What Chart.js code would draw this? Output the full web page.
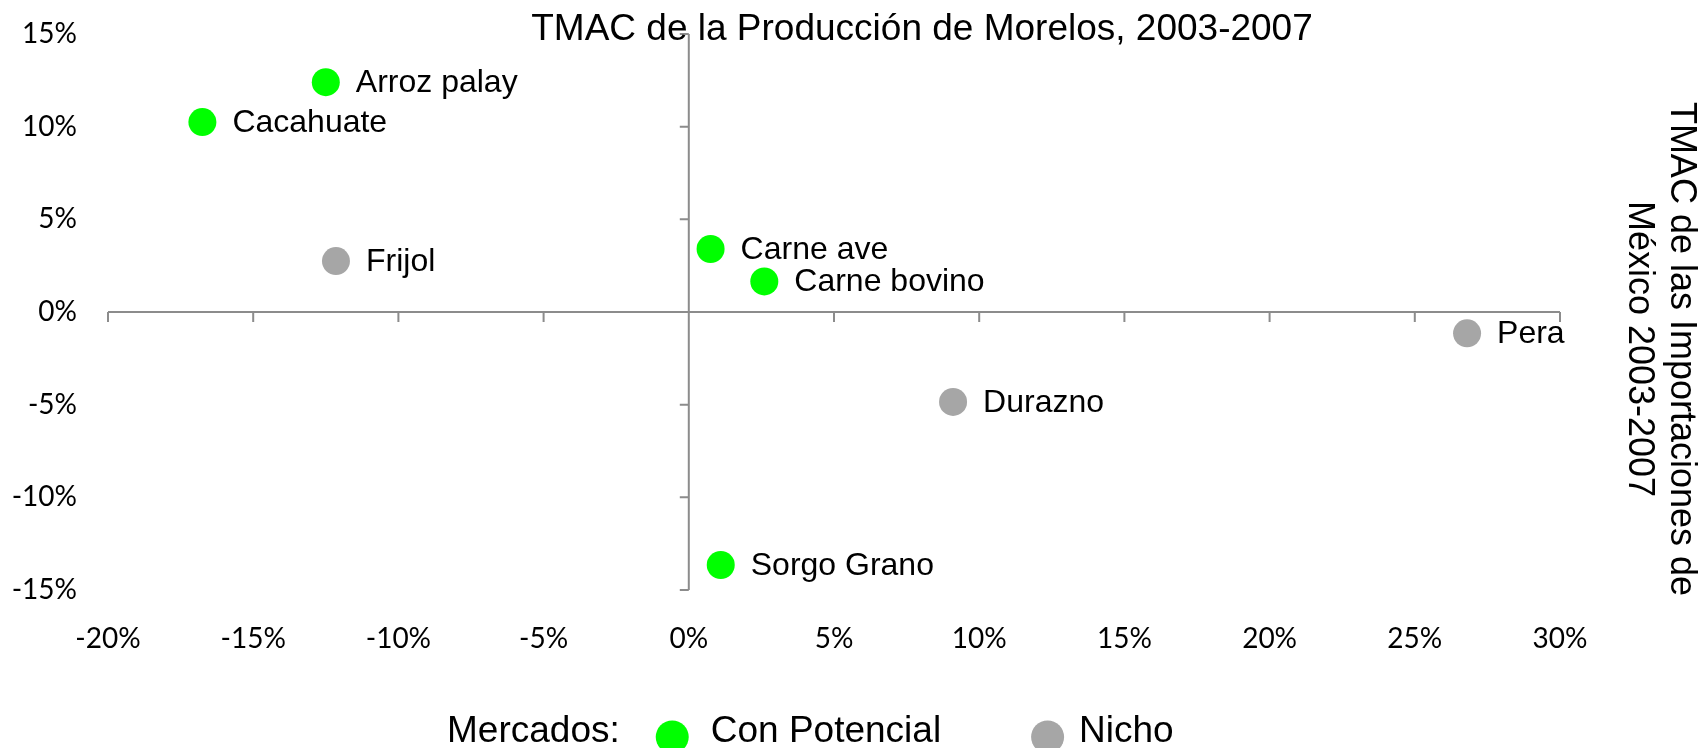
<!DOCTYPE html>
<html>
<head>
<meta charset="utf-8">
<script src="https://cdn.jsdelivr.net/npm/chart.js@4"></script>
<style>
  body { margin: 0; background: #ffffff; }
  #wrap { width: 1699px; height: 748px; }
</style>
</head>
<body>
<div id="wrap"><canvas id="chart" width="1699" height="748"></canvas></div>
<script>
// TMAC producción Morelos (x) vs TMAC importaciones México (y), en %
const potencialNombres = ['Arroz palay', 'Cacahuate', 'Carne ave', 'Carne bovino', 'Sorgo Grano'];
const potencialProduccion = [-12.5, -16.75, 0.75, 2.6, 1.1];
const potencialImportaciones = [12.4, 10.25, 3.4, 1.65, -13.65];

const nichoNombres = ['Frijol', 'Durazno', 'Pera'];
const nichoProduccion = [-12.15, 9.1, 26.8];
const nichoImportaciones = [2.75, -4.85, -1.15];

const xTicks = [-20, -15, -10, -5, 0, 5, 10, 15, 20, 25, 30];
const yTicks = [-15, -10, -5, 0, 5, 10, 15];

const titulo = 'TMAC de la Producción de Morelos, 2003-2007';
const tituloY = ['TMAC de las Importaciones de', 'México 2003-2007'];
const leyendaTitulo = 'Mercados:';

const VERDE = '#00ff00';
const GRIS = '#a6a6a6';
const EJE = '#8c8c8c';
const FONT = '"Liberation Sans", Arial, sans-serif';
const TICK_FONT = 'Lato, "Liberation Sans", sans-serif';

function toPoints(xs, ys) {
    return xs.map((x, i) => ({ x: x, y: ys[i] }));
}

// crossing axes at 0 with their tick marks
const ejesCruzados = {
    id: 'ejesCruzados',
    beforeDatasetsDraw(chart) {
        const { ctx, scales: { x, y } } = chart;
        const x0 = x.getPixelForValue(0);
        const y0 = y.getPixelForValue(0);
        ctx.save();
        ctx.strokeStyle = EJE;
        ctx.lineWidth = 2;
        ctx.beginPath();
        ctx.moveTo(x.left, y0);
        ctx.lineTo(x.right, y0);
        xTicks.forEach(v => {
            const px = x.getPixelForValue(v);
            ctx.moveTo(px, y0);
            ctx.lineTo(px, y0 + 10);
        });
        ctx.moveTo(x0, y.top);
        ctx.lineTo(x0, y.bottom);
        yTicks.forEach(v => {
            const py = y.getPixelForValue(v);
            ctx.moveTo(x0, py);
            ctx.lineTo(x0 - 9, py);
        });
        ctx.stroke();
        ctx.restore();
    }
};

// names next to each point
const etiquetas = {
    id: 'etiquetas',
    afterDatasetsDraw(chart) {
        const ctx = chart.ctx;
        ctx.save();
        ctx.font = '32px ' + FONT;
        ctx.fillStyle = '#000000';
        ctx.textAlign = 'left';
        ctx.textBaseline = 'middle';
        chart.data.datasets.forEach((ds, i) => {
            const meta = chart.getDatasetMeta(i);
            meta.data.forEach((pt, j) => {
                ctx.fillText(ds.nombres[j], pt.x + 30, pt.y + 1);
            });
        });
        ctx.restore();
    }
};

// title, right-hand axis title and the inline legend
const textos = {
    id: 'textos',
    afterDraw(chart) {
        const ctx = chart.ctx;
        ctx.save();
        ctx.fillStyle = '#000000';

        ctx.font = '37px ' + FONT;
        ctx.textAlign = 'center';
        ctx.textBaseline = 'alphabetic';
        ctx.fillText(titulo, 922, 40);

        ctx.save();
        ctx.translate(1681, 349);
        ctx.rotate(Math.PI / 2);
        ctx.font = '36px ' + FONT;
        ctx.textBaseline = 'middle';
        tituloY.forEach((t, i) => ctx.fillText(t, 0, i * 42));
        ctx.restore();

        // legend row
        ctx.font = '37px ' + FONT;
        ctx.textAlign = 'left';
        ctx.textBaseline = 'middle';
        const ly = 732;
        let lx = 447;
        ctx.fillText(leyendaTitulo, lx, ly);
        lx += ctx.measureText(leyendaTitulo).width + 36;
        const gaps = [22, 15];
        chart.data.datasets.forEach((ds, i) => {
            ctx.fillStyle = ds.backgroundColor;
            ctx.beginPath();
            ctx.arc(lx + 16.5, ly + 5, 16.5, 0, Math.PI * 2);
            ctx.fill();
            lx += 33 + gaps[i];
            ctx.fillStyle = '#000000';
            ctx.fillText(ds.label, lx, ly);
            lx += ctx.measureText(ds.label).width + 90;
        });
        ctx.restore();
    }
};

const chart = new Chart(document.getElementById('chart'), {
    type: 'scatter',
    data: {
        datasets: [{
            label: 'Con Potencial',
            nombres: potencialNombres,
            data: toPoints(potencialProduccion, potencialImportaciones),
            backgroundColor: VERDE,
            borderWidth: 0,
            pointRadius: 14,
            pointHoverRadius: 14
        }, {
            label: 'Nicho',
            nombres: nichoNombres,
            data: toPoints(nichoProduccion, nichoImportaciones),
            backgroundColor: GRIS,
            borderWidth: 0,
            pointRadius: 14,
            pointHoverRadius: 14
        }]
    },
    options: {
        responsive: false,
        animation: false,
        layout: { padding: { left: 0, right: 139, top: 34, bottom: 0 } },
        plugins: {
            legend: { display: false },
            title: { display: false },
            tooltip: { enabled: false }
        },
        scales: {
            x: {
                type: 'linear',
                min: -20,
                max: 30,
                afterFit: (scale) => { scale.height = 158; },
                afterBuildTicks: (scale) => { scale.ticks = xTicks.map(v => ({ value: v })); },
                // tickLength used as the gap to the labels, grid itself hidden
                grid: { display: false, drawTicks: true, tickLength: 32 },
                border: { display: false },
                ticks: {
                    padding: 0,
                    color: '#000000',
                    font: { family: TICK_FONT, size: 28 },
                    callback: (v) => v + '%'
                }
            },
            y: {
                type: 'linear',
                min: -15,
                max: 15,
                afterFit: (scale) => { scale.width = 108; },
                afterBuildTicks: (scale) => { scale.ticks = yTicks.map(v => ({ value: v })); },
                grid: { display: false, drawTicks: true, tickLength: 31 },
                border: { display: false },
                ticks: {
                    padding: 0,
                    color: '#000000',
                    font: { family: TICK_FONT, size: 28 },
                    callback: (v) => v + '%'
                }
            }
        }
    },
    plugins: [ejesCruzados, etiquetas, textos]
});
</script>
</body>
</html>
